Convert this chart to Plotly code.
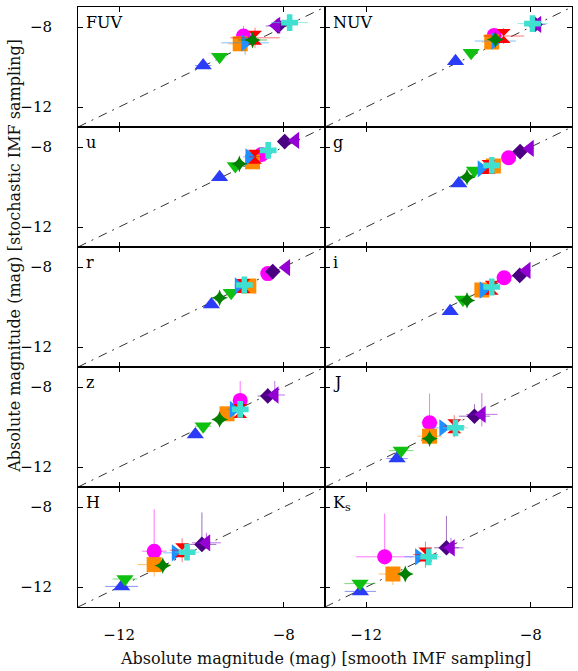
import plotly.graph_objects as go
from plotly.subplots import make_subplots

# Bands (panel order: row by row, left to right)
bands = ["FUV", "NUV", "u", "g", "r", "i", "z", "J", "H", "K<sub>s</sub>"]
tick_vals = [-12, -8]
tick_text = ["\u221212", "\u22128"]

# Per-series values across the 10 bands: x = smooth IMF sampling, y = stochastic IMF sampling
blue_x = [-9.96, -9.83, -9.56, -9.75, -9.76, -9.96, -10.15, -11.25, -11.94, -12.14]
blue_y = [-9.93, -9.71, -9.51, -9.82, -9.87, -10.21, -10.38, -11.58, -11.97, -12.22]
blue_xe = [0.2, 0.12, 0.1, 0.1, 0.1, 0.1, 0.12, 0.26, 0.4, 0.38]
blue_yu = [0.1, 0.1, 0.1, 0.1, 0.1, 0.1, 0.1, 0.15, 0.15, 0.15]
blue_yd = [0.1, 0.1, 0.1, 0.1, 0.1, 0.1, 0.1, 0.15, 0.15, 0.15]

green_x = [-9.56, -9.45, -9.18, -9.37, -9.28, -9.65, -9.96, -11.15, -11.86, -12.15]
green_y = [-9.49, -9.29, -8.95, -9.17, -9.29, -9.62, -9.96, -11.18, -11.60, -11.83]
green_xe = [0.12, 0.1, 0.1, 0.1, 0.1, 0.1, 0.2, 0.3, 0.3, 0.38]
green_yu = [0.1, 0.1, 0.1, 0.1, 0.1, 0.1, 0.1, 0.15, 0.15, 0.15]
green_yd = [0.1, 0.1, 0.1, 0.1, 0.1, 0.1, 0.1, 0.15, 0.15, 0.15]

magenta_x = [-8.98, -8.89, -8.54, -8.54, -8.39, -8.65, -9.06, -10.46, -11.15, -11.55]
magenta_y = [-8.45, -8.42, -8.37, -8.54, -8.33, -8.54, -8.67, -9.79, -10.21, -10.49]
magenta_xe = [0.15, 0.15, 0.1, 0.1, 0.1, 0.1, 0.15, 0.2, 0.3, 0.7]
magenta_yu = [0.5, 0.3, 0.15, 0.1, 0.1, 0.1, 0.97, 1.46, 2.1, 2.16]
magenta_yd = [0.5, 0.3, 0.15, 0.1, 0.1, 0.1, 0.3, 0.3, 0.4, 0.4]

orange_x = [-9.06, -8.95, -8.76, -8.91, -8.85, -9.19, -9.38, -10.46, -11.15, -11.35]
orange_y = [-8.84, -8.75, -8.74, -8.95, -8.95, -9.15, -9.34, -10.46, -10.88, -11.35]
orange_xe = [0.3, 0.25, 0.15, 0.1, 0.1, 0.1, 0.15, 0.3, 0.4, 0.35]
orange_yu = [0.2, 0.2, 0.1, 0.1, 0.1, 0.1, 0.15, 0.2, 0.2, 0.2]
orange_yd = [0.2, 0.2, 0.1, 0.1, 0.1, 0.1, 0.15, 0.3, 0.6, 0.55]

dodger_x = [-8.94, -8.86, -8.84, -9.20, -9.10, -9.15, -9.22, -10.13, -10.63, -10.72]
dodger_y = [-8.79, -8.70, -8.49, -9.09, -8.95, -9.15, -9.12, -10.04, -10.29, -10.49]
dodger_xe = [0.58, 0.5, 0.15, 0.1, 0.1, 0.1, 0.15, 0.3, 0.3, 0.35]
dodger_yu = [0.2, 0.2, 0.1, 0.1, 0.1, 0.1, 0.1, 0.2, 0.2, 0.2]
dodger_yd = [0.6, 0.4, 0.1, 0.1, 0.1, 0.1, 0.1, 0.2, 0.3, 0.3]

red_x = [-8.70, -8.66, -8.70, -9.03, -8.98, -8.95, -9.06, -9.86, -10.47, -10.56]
red_y = [-8.54, -8.45, -8.49, -9.00, -8.95, -9.04, -9.20, -9.96, -10.16, -10.38]
red_xe = [0.6, 0.5, 0.15, 0.1, 0.1, 0.1, 0.15, 0.25, 0.3, 0.3]
red_yu = [0.5, 0.4, 0.15, 0.1, 0.1, 0.1, 0.15, 0.55, 0.6, 0.65]
red_yd = [0.5, 0.4, 0.15, 0.1, 0.1, 0.1, 0.15, 0.55, 0.6, 0.65]

dkgreen_x = [-8.76, -8.86, -9.08, -9.55, -9.56, -9.55, -9.56, -10.46, -10.94, -11.05]
dkgreen_y = [-8.65, -8.62, -8.84, -9.51, -9.54, -9.67, -9.62, -10.58, -10.93, -11.35]
dkgreen_xe = [0.35, 0.2, 0.1, 0.1, 0.1, 0.1, 0.1, 0.15, 0.15, 0.15]
dkgreen_yu = [0.2, 0.15, 0.1, 0.1, 0.1, 0.1, 0.1, 0.15, 0.15, 0.15]
dkgreen_yd = [0.2, 0.15, 0.1, 0.1, 0.1, 0.1, 0.1, 0.15, 0.15, 0.15]

indigo_x = [-8.14, -7.90, -7.98, -8.26, -8.27, -8.27, -8.39, -9.37, -9.99, -10.05]
indigo_y = [-7.95, -7.87, -7.73, -8.23, -8.23, -8.42, -8.45, -9.46, -9.87, -10.04]
indigo_xe = [0.3, 0.2, 0.1, 0.1, 0.1, 0.1, 0.25, 0.38, 0.35, 0.3]
indigo_yu = [0.37, 0.2, 0.1, 0.1, 0.1, 0.1, 0.4, 0.6, 1.6, 1.6]
indigo_yd = [0.37, 0.2, 0.1, 0.1, 0.1, 0.1, 0.2, 0.3, 0.3, 0.3]

purple_x = [-8.18, -7.84, -7.72, -8.02, -7.94, -8.10, -8.22, -9.19, -9.88, -9.94]
purple_y = [-7.92, -7.87, -7.67, -8.07, -8.03, -8.17, -8.40, -9.37, -9.79, -10.04]
purple_xe = [0.2, 0.2, 0.1, 0.1, 0.1, 0.1, 0.25, 0.38, 0.35, 0.3]
purple_yu = [0.3, 0.2, 0.1, 0.1, 0.1, 0.2, 0.7, 1.07, 0.5, 0.5]
purple_yd = [0.3, 0.2, 0.1, 0.1, 0.1, 0.1, 0.3, 0.6, 0.3, 0.3]

turq_x = [-7.86, -7.96, -8.38, -8.95, -8.96, -8.95, -9.06, -9.83, -10.35, -10.48]
turq_y = [-7.78, -7.83, -8.17, -8.92, -8.90, -9.00, -9.12, -10.04, -10.26, -10.49]
turq_xe = [0.45, 0.37, 0.15, 0.1, 0.1, 0.1, 0.1, 0.3, 0.3, 0.3]
turq_yu = [0.2, 0.15, 0.1, 0.1, 0.1, 0.1, 0.1, 0.2, 0.2, 0.2]
turq_yd = [0.2, 0.15, 0.1, 0.1, 0.1, 0.1, 0.1, 0.2, 0.2, 0.2]

series = [
    ("#2a3cf5", "triangle-up", 15, blue_x, blue_y, blue_xe, blue_yu, blue_yd),
    ("#10c010", "triangle-down", 15, green_x, green_y, green_xe, green_yu, green_yd),
    ("#ff00ff", "circle", 15, magenta_x, magenta_y, magenta_xe, magenta_yu, magenta_yd),
    ("#ff8c00", "square", 15, orange_x, orange_y, orange_xe, orange_yu, orange_yd),
    ("#1e90ff", "triangle-right", 15, dodger_x, dodger_y, dodger_xe, dodger_yu, dodger_yd),
    ("#ff0000", "hourglass", 14, red_x, red_y, red_xe, red_yu, red_yd),
    ("#007f00", "star-diamond", 12, dkgreen_x, dkgreen_y, dkgreen_xe, dkgreen_yu, dkgreen_yd),
    ("#4b0082", "diamond", 12, indigo_x, indigo_y, indigo_xe, indigo_yu, indigo_yd),
    ("#9400d3", "triangle-left", 15, purple_x, purple_y, purple_xe, purple_yu, purple_yd),
    ("#40e0d0", "cross", 14, turq_x, turq_y, turq_xe, turq_yu, turq_yd),
]


def rgba(hexcol, a):
    h = hexcol.lstrip("#")
    return "rgba(%d,%d,%d,%.2f)" % (int(h[0:2], 16), int(h[2:4], 16), int(h[4:6], 16), a)


FONT = "DejaVu Serif"

fig = make_subplots(rows=5, cols=2, horizontal_spacing=0, vertical_spacing=0)

for b, band in enumerate(bands):
    row = b // 2 + 1
    col = b % 2 + 1
    for color, sym, size, xs, ys, xe, yu, yd in series:
        ec = rgba(color, 0.55)
        fig.add_trace(
            go.Scatter(
                x=[xs[b]], y=[ys[b]], mode="markers",
                marker=dict(symbol=sym, size=size, color=color, line=dict(width=0)),
                error_x=dict(type="data", array=[xe[b]], color=ec, thickness=1, width=0),
                error_y=dict(type="data", symmetric=False, array=[yu[b]],
                             arrayminus=[yd[b]], color=ec, thickness=1, width=0),
                showlegend=False, hoverinfo="skip",
            ),
            row=row, col=col,
        )
    n = b + 1
    xr = "x" if n == 1 else "x%d" % n
    yr = "y" if n == 1 else "y%d" % n
    # one-to-one line (diagonal of the panel, identical axis ranges)
    fig.add_shape(type="line", xref=xr + " domain", yref=yr + " domain",
                  x0=0, y0=0, x1=1, y1=1,
                  line=dict(color="#333333", width=1, dash="9px,6px,2px,6px"),
                  layer="below")
    fig.add_annotation(text=band, xref=xr + " domain", yref=yr + " domain",
                       x=0.025, y=0.965, xanchor="left", yanchor="top",
                       showarrow=False, font=dict(family=FONT, size=16, color="black"))

axis_common = dict(range=[-13, -7], tickvals=tick_vals, ticktext=tick_text,
                   ticks="inside", ticklen=5, tickcolor="black",
                   showline=True, linecolor="black", linewidth=1, mirror="ticks",
                   showgrid=False, zeroline=False,
                   tickfont=dict(family=FONT, size=15, color="black"))

for b in range(10):
    n = b + 1
    row = b // 2 + 1
    col = b % 2 + 1
    xkey = "xaxis" if n == 1 else "xaxis%d" % n
    ykey = "yaxis" if n == 1 else "yaxis%d" % n
    fig.layout[xkey].update(**axis_common, showticklabels=(row == 5), ticklabelstandoff=14)
    fig.layout[ykey].update(**axis_common, showticklabels=(col == 1), ticklabelstandoff=22)

fig.add_annotation(text="Absolute magnitude (mag) [smooth IMF sampling]",
                   xref="paper", yref="paper", x=0.5, y=-0.085,
                   xanchor="center", yanchor="middle", showarrow=False,
                   font=dict(family=FONT, size=16, color="#111111"))
fig.add_annotation(text="Absolute magnitude (mag) [stochastic IMF sampling]",
                   xref="paper", yref="paper", x=-0.13, y=0.585,
                   xanchor="center", yanchor="middle", showarrow=False, textangle=-90,
                   font=dict(family=FONT, size=16, color="#111111"))

fig.update_layout(width=578, height=671,
                  margin=dict(l=78, r=6, t=7, b=64),
                  paper_bgcolor="white", plot_bgcolor="white",
                  showlegend=False)

fig.write_html("out.html")
